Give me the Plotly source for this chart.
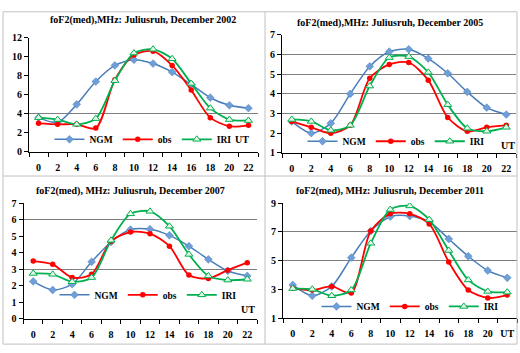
import plotly.graph_objects as go

W, H = 520, 353
ut = [0, 2, 4, 6, 8, 10, 12, 14, 16, 18, 20, 22]

titles = [
    "foF2(med),MHz: Juliusruh, December 2002",
    "foF2(med),MHz: Juliusruh, December 2005",
    "foF2(med), MHz: Juliusruh, December 2007",
    "foF2(med), MHz: Juliusruh, December 2011",
]

ngm_2002 = [3.6, 3.1, 5.0, 7.4, 9.1, 9.7, 9.3, 8.4, 7.1, 5.7, 4.9, 4.6]
obs_2002 = [3.0, 2.9, 2.9, 2.5, 7.6, 10.2, 10.6, 9.1, 6.5, 3.6, 2.7, 2.8]
iri_2002 = [3.6, 3.4, 2.9, 3.5, 7.5, 10.4, 10.8, 9.8, 7.2, 4.6, 3.4, 3.3]

ngm_2005 = [2.6, 2.0, 2.5, 4.0, 5.4, 6.15, 6.27, 5.8, 5.05, 4.1, 3.3, 2.95]
obs_2005 = [2.6, 2.3, 2.0, 2.4, 4.8, 5.5, 5.6, 4.7, 2.8, 2.1, 2.3, 2.4]
iri_2005 = [2.7, 2.6, 2.15, 2.4, 4.4, 5.85, 5.9, 5.1, 3.45, 2.25, 2.1, 2.3]

ngm_2007 = [2.27, 1.75, 2.1, 3.45, 4.65, 5.4, 5.42, 5.05, 4.4, 3.6, 2.9, 2.6]
obs_2007 = [3.5, 3.3, 2.5, 2.7, 4.7, 5.25, 5.15, 4.4, 2.65, 2.45, 2.95, 3.4]
iri_2007 = [2.75, 2.7, 2.25, 2.5, 4.75, 6.35, 6.5, 5.6, 3.9, 2.6, 2.35, 2.4]

ngm_2011 = [3.3, 2.55, 3.2, 5.2, 7.05, 8.05, 8.1, 7.7, 6.5, 5.3, 4.3, 3.8]
obs_2011 = [3.07, 2.95, 3.2, 2.75, 7.05, 8.25, 8.25, 7.55, 4.9, 2.95, 2.4, 2.6]
iri_2011 = [3.05, 3.0, 2.55, 2.95, 6.2, 8.55, 8.8, 7.85, 5.7, 3.65, 2.85, 2.8]

xlabels_a = ["0", "2", "4", "6", "8", "10", "12", "14", "16", "18", "20", "22"]
xlabels_b = ["0", "2", "4", "6", "8", "10", "12", "14", "16", "18", "20", "UT"]

yranges = [[0, 12], [1, 7], [0, 7], [1, 9]]
ydticks = [2, 1, 1, 2]
ygrids = [[4], [3, 4, 5, 6], [3, 6], [5, 7]]

series = [
    (ngm_2002, obs_2002, iri_2002),
    (ngm_2005, obs_2005, iri_2005),
    (ngm_2007, obs_2007, iri_2007),
    (ngm_2011, obs_2011, iri_2011),
]

# layout geometry in pixels (left, right, top, bottom) of each plot area
boxes = [
    (29, 258, 33, 151),
    (282, 516, 30, 152),
    (23.5, 257, 204, 324),
    (283, 517, 204, 323),
]
title_pos = [(143, 15), (390, 18), (130, 191), (390, 191)]
legend_pos = [(143, 138), (396, 140), (148, 299), (410, 311)]
ut_pos = [(242, 138), (508, 144), (248, 314), None]

def px(x):
    return x / W

def py(y):
    return 1 - y / H

FONT = "Liberation Serif"
BLUE = "#4a7ebb"
RED = "#ff0000"
GREEN = "#00b050"

fig = go.Figure()
layout = dict(
    width=W, height=H, margin=dict(l=0, r=0, t=0, b=0),
    paper_bgcolor="white", plot_bgcolor="white",
    font=dict(family=FONT, size=10, color="black"),
    annotations=[], shapes=[],
)

for i in range(4):
    sfx = "" if i == 0 else str(i + 1)
    xa, ya = "x" + sfx, "y" + sfx
    lg = "legend" + sfx
    ngm, obs, iri = series[i]
    fig.add_trace(go.Scatter(
        x=ut, y=ngm, name="NGM", xaxis=xa, yaxis=ya, legend=lg,
        mode="lines+markers", line=dict(color=BLUE, width=1.5, shape="spline", smoothing=0.8),
        marker=dict(symbol="diamond", size=6, color="#6f9fd8", line=dict(color=BLUE, width=0.5))))
    fig.add_trace(go.Scatter(
        x=ut, y=obs, name="obs", xaxis=xa, yaxis=ya, legend=lg,
        mode="lines+markers", line=dict(color=RED, width=1.8, shape="spline", smoothing=0.8),
        marker=dict(symbol="circle", size=5.5, color=RED)))
    fig.add_trace(go.Scatter(
        x=ut, y=iri, name="IRI", xaxis=xa, yaxis=ya, legend=lg,
        mode="lines+markers", line=dict(color=GREEN, width=1.8, shape="spline", smoothing=0.8),
        marker=dict(symbol="triangle-up", size=7, color="#e8f6ea", line=dict(color=GREEN, width=1))))

    l, r, t, b = boxes[i]
    layout["xaxis" + sfx] = dict(
        domain=[px(l), px(r)], anchor=ya, range=[-1, 23],
        tickvals=ut, ticktext=(xlabels_b if i == 3 else xlabels_a),
        ticks="", showgrid=False, zeroline=False,
        showline=True, linecolor="black", linewidth=1,
        tickfont=dict(family=FONT, size=10, color="black", weight="bold"),
        ticklabelstandoff=6,
        minor=dict(tickvals=list(range(-1, 24, 2)), ticks="outside", ticklen=4,
                   tickcolor="black", showgrid=False),
    )
    layout["yaxis" + sfx] = dict(
        domain=[py(b), py(t)], anchor=xa, range=yranges[i], dtick=ydticks[i],
        tick0=yranges[i][0], ticks="outside", ticklen=4, tickcolor="black",
        showgrid=False, zeroline=False,
        showline=True, linecolor="black", linewidth=1,
        tickfont=dict(family=FONT, size=10, color="black", weight="bold"),
        minor=dict(tickvals=ygrids[i], showgrid=True, gridcolor="#7f7f7f", gridwidth=1, ticks=""),
    )
    lx, ly = legend_pos[i]
    layout[lg] = dict(
        x=px(lx), y=py(ly), xanchor="center", yanchor="middle",
        orientation="h", bgcolor="rgba(0,0,0,0)", itemwidth=30,
        font=dict(family=FONT, size=9.5, color="black", weight="bold"),
        tracegroupgap=0,
    )
    tx, ty = title_pos[i]
    layout["annotations"].append(dict(
        text=titles[i], x=px(tx), y=py(ty), xref="paper", yref="paper",
        xanchor="center", yanchor="middle", showarrow=False,
        font=dict(family=FONT, size=10, color="black", weight="bold")))
    if ut_pos[i] is not None:
        ux, uy = ut_pos[i]
        layout["annotations"].append(dict(
            text="UT", x=px(ux), y=py(uy), xref="paper", yref="paper",
            xanchor="center", yanchor="middle", showarrow=False,
            font=dict(family=FONT, size=10, color="black", weight="bold")))

# panel frames
border = dict(color="#c0c0c0", width=1)
layout["shapes"].append(dict(type="rect", xref="paper", yref="paper",
                             x0=px(3), x1=px(517), y0=py(350), y1=py(6), line=border))
layout["shapes"].append(dict(type="line", xref="paper", yref="paper",
                             x0=px(265), x1=px(265), y0=py(350), y1=py(6), line=border))
layout["shapes"].append(dict(type="line", xref="paper", yref="paper",
                             x0=px(3), x1=px(517), y0=py(176), y1=py(176), line=border))

fig.update_layout(**layout)
fig.write_html("out.html")
